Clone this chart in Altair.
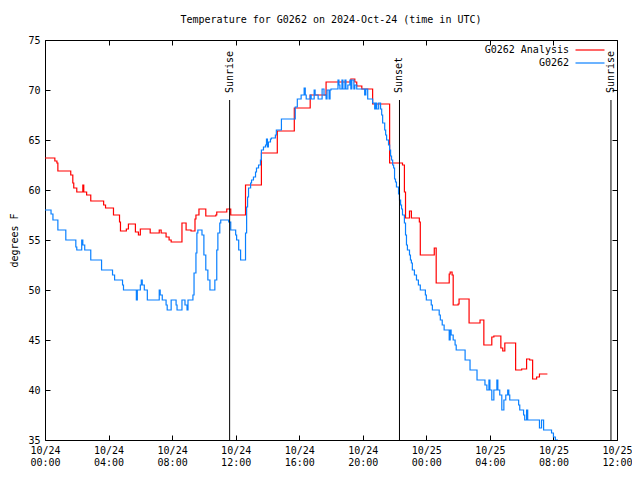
import altair as alt
import pandas as pd

# ---- data ----
series_names = ["G0262 Analysis", "G0262"]
series_colors = ["#ff0000", "#0a80ff"]

analysis_hours = [0.0, 0.62, 0.75, 0.81, 1.62, 1.75, 1.81, 2.0, 2.38, 2.44, 2.62, 2.88,
                  3.69, 3.81, 4.31, 4.69, 4.75, 5.12, 5.25, 5.69, 5.88, 6.0, 6.62, 7.19,
                  7.31, 7.62, 7.81, 7.94, 8.62, 8.88, 9.19, 9.44, 9.5, 9.69, 10.12, 10.75,
                  10.81, 11.44, 11.69, 12.62, 13.62, 14.62, 15.69, 16.69, 17.69, 19.25,
                  19.5, 19.62, 19.94, 20.62, 21.69, 22.5, 22.62, 22.69, 22.94, 23.06,
                  23.56, 23.62, 24.5, 24.62, 25.44, 25.5, 25.62, 25.69, 26.0, 26.06,
                  26.69, 27.38, 27.62, 28.12, 28.25, 28.69, 28.81, 28.94, 29.62, 30.0,
                  30.31, 30.5, 30.69, 30.94, 31.12, 31.62]
analysis_temps = [63.2, 62.9, 62.7, 61.9, 61.5, 60.7, 60.2, 59.8, 60.5, 59.8, 59.5, 58.9,
                  58.5, 58.2, 57.5, 56.8, 55.9, 56.1, 56.6, 55.8, 55.5, 56.1, 55.7, 56.0,
                  55.7, 55.3, 55.0, 54.8, 56.7, 56.0, 55.9, 57.1, 57.5, 58.1, 57.4, 57.5,
                  57.8, 58.1, 57.5, 60.5, 63.7, 65.9, 68.2, 69.5, 70.8, 71.1,
                  70.8, 70.4, 70.1, 68.6, 62.7, 62.5, 59.8, 57.2, 57.9, 57.2,
                  56.8, 53.5, 54.2, 50.7, 51.6, 51.8, 51.5, 48.5, 48.6, 49.1,
                  46.7, 47.0, 44.5, 45.3, 45.4, 44.2, 43.9, 44.7, 42.0, 42.1,
                  43.1, 43.0, 41.1, 41.3, 41.6, 41.6]

obs_hours = [0.0, 0.38, 0.5, 0.81, 1.31, 1.94, 2.0, 2.31, 2.38, 2.5, 2.88, 3.56, 4.25,
             4.38, 4.88, 4.94, 5.75, 5.81, 6.0, 6.06, 6.12, 6.25, 6.44, 7.19, 7.25, 7.38,
             7.62, 7.69, 7.94, 8.25, 8.31, 8.62, 8.81, 8.94, 9.0, 9.31, 9.38, 9.5, 9.56,
             9.62, 9.88, 10.0, 10.12, 10.25, 10.38, 10.69, 10.81, 10.88, 11.0, 11.06,
             11.56, 11.69, 12.0, 12.06, 12.19, 12.31, 12.62, 12.69, 12.75, 12.81, 12.94,
             13.0, 13.12, 13.25, 13.31, 13.44, 13.56, 13.62, 13.75, 13.88, 13.94, 14.0,
             14.06, 14.19, 14.25, 14.5, 14.56, 14.88, 15.75, 15.88, 16.12, 16.31, 16.38,
             16.44, 16.69, 16.75, 16.94, 17.0, 17.19, 17.44, 17.56, 17.69, 17.75, 17.88,
             17.94, 18.0, 18.44, 18.5, 18.56, 18.69, 18.75, 18.88, 18.94, 19.06, 19.19,
             19.25, 19.31, 19.44, 19.5, 19.62, 20.12, 20.19, 20.31, 20.62, 20.75, 20.81,
             20.88, 21.0, 21.12, 21.19, 21.25, 21.38, 21.44, 21.5, 21.62, 21.69, 21.75,
             21.81, 21.88, 21.94, 22.0, 22.06, 22.12, 22.25, 22.31, 22.38, 22.44, 22.5,
             22.62, 22.69, 22.75, 22.81, 22.94, 23.0, 23.06, 23.12, 23.25, 23.38, 23.5,
             23.62, 23.94, 24.0, 24.31, 24.38, 24.81, 24.88, 25.0, 25.12, 25.44, 25.5,
             25.56, 25.69, 25.81, 25.88, 26.44, 26.75, 27.19, 27.69, 27.81, 27.94, 28.0,
             28.12, 28.25, 28.44, 28.5, 28.62, 28.75, 28.88, 29.0, 29.12, 29.19, 29.25,
             29.81, 29.88, 30.12, 30.19, 30.31, 30.38, 31.12, 31.25, 31.38, 31.88, 32.0,
             32.12, 32.25]
obs_temps = [58.0, 57.6, 57.0, 56.0, 55.0, 54.3, 54.0, 55.0, 54.5, 54.0, 53.0, 52.0, 51.5,
             51.0, 50.5, 50.0, 49.0, 50.0, 50.5, 51.0, 50.5, 50.0, 49.0, 50.0, 49.5, 49.0,
             48.5, 48.0, 49.0, 48.5, 48.0, 49.0, 48.5, 48.0, 49.0, 49.5, 51.7, 53.7, 55.7,
             56.0, 55.5, 53.5, 52.0, 51.0, 50.0, 51.0, 54.0, 55.7, 56.7, 57.0,
             56.8, 56.0, 55.5, 55.0, 54.0, 53.0, 55.7, 58.3, 59.3, 60.2, 60.7,
             61.0, 61.3, 61.8, 62.2, 62.5, 63.0, 64.0, 64.3, 64.5, 65.1, 64.3,
             64.8, 65.1, 65.2, 65.5, 66.0, 67.1, 68.3, 69.1, 69.5, 70.2, 69.5,
             69.1, 69.5, 69.1, 70.0, 69.5, 69.1, 70.1, 69.5, 69.1, 70.0, 69.1,
             70.0, 70.1, 71.0, 70.5, 70.1, 71.0, 70.1, 71.0, 70.1, 70.5, 71.0,
             70.1, 71.0, 70.1, 70.5, 70.1, 69.5, 70.1, 69.1, 68.7, 68.1, 68.7,
             68.1, 68.7, 68.1, 67.5, 66.7, 66.0, 65.5, 65.0, 64.5, 64.0, 63.4,
             63.0, 62.5, 62.2, 61.1, 60.8, 60.3, 59.6, 59.0, 58.5, 58.1, 57.5,
             56.7, 55.5, 54.5, 54.0, 53.5, 53.0, 52.7, 52.0, 51.5, 51.0, 50.5,
             50.0, 49.5, 49.0, 48.5, 48.0, 47.5, 47.0, 46.5, 46.0, 45.0, 46.0,
             45.5, 45.0, 44.5, 44.0, 43.0, 42.0, 41.0, 40.5, 40.0, 41.0, 40.0,
             39.0, 40.0, 41.0, 40.0, 39.5, 38.0, 39.0, 39.5, 40.0, 39.5, 39.0,
             38.5, 38.0, 37.5, 37.0, 38.0, 37.0, 36.2, 37.0, 36.0, 35.7, 35.3,
             35.0, 34.5]

event_hours = [11.62, 22.31, 35.62]
event_labels = ["Sunrise", "Sunset", "Sunrise"]

y_ticks = [35, 40, 45, 50, 55, 60, 65, 70, 75]
x_ticks = list(range(0, 37))

# ---- tables ----
df = pd.concat([
    pd.DataFrame({"hour": analysis_hours, "temp": analysis_temps, "series": series_names[0]}),
    pd.DataFrame({"hour": obs_hours, "temp": obs_temps, "series": series_names[1]}),
], ignore_index=True)
ev = pd.DataFrame({"hour": event_hours, "label": event_labels})

FONT = "DejaVu Sans Mono"
W, H = 572, 400

x_label_expr = ("datum.value % 4 == 0 ? ['10/' + (24 + floor(datum.value / 24)), "
                "(datum.value % 24 < 10 ? '0' : '') + (datum.value % 24) + ':00'] : ''")

x_enc = alt.X(
    "hour:Q",
    scale=alt.Scale(domain=[0, 36], nice=False, zero=False),
    axis=alt.Axis(
        values=x_ticks, labelExpr=x_label_expr, title=None,
        ticks=False, domain=False, grid=True, gridColor="black", gridWidth=1,
        gridDash={"condition": {"test": "datum.value % 4 == 0", "value": [5, H - 10, 5, 100]},
                  "value": [2.5, H - 5, 2.5, 100]},
        labelOverlap=False, labelFlush=False, labelPadding=5, labelLineHeight=12,
        labelFont=FONT, labelFontSize=10, labelColor="black",
    ),
)
y_enc = alt.Y(
    "temp:Q",
    scale=alt.Scale(domain=[35, 75], nice=False, zero=False),
    axis=alt.Axis(
        values=y_ticks, title="degrees F", ticks=False, domain=False,
        grid=True, gridColor="black", gridWidth=1, gridDash=[5, W - 10, 5, 100],
        labelPadding=5, labelFont=FONT, labelFontSize=10, labelColor="black",
        titleFont=FONT, titleFontSize=10, titleFontWeight="normal", titleColor="black",
        titlePadding=8,
    ),
)

lines = alt.Chart(df).mark_line(interpolate="step-after", strokeWidth=1.2, clip=True).encode(
    x=x_enc,
    y=y_enc,
    color=alt.Color(
        "series:N",
        scale=alt.Scale(domain=series_names, range=series_colors),
        legend=alt.Legend(
            title=None, orient="none", legendX=539, legendY=4,
            symbolType="M-2.9,0H2.9", symbolSize=100, symbolStrokeWidth=1.2,
            symbolFillColor="transparent",
            labelAlign="right", labelOffset={"expr": "-27"},
            labelFont=FONT, labelFontSize=10, labelColor="black",
            padding=0, rowPadding=2,
        ),
    ),
    detail="series:N",
)

rules = alt.Chart(ev).mark_rule(color="black", strokeWidth=1).encode(
    x="hour:Q", y=alt.value(60), y2=alt.value(H)
)
labels = alt.Chart(ev).mark_text(
    angle=270, align="left", baseline="middle", font=FONT, fontSize=10, color="black"
).encode(x="hour:Q", y=alt.value(53), text="label:N")

chart = alt.layer(lines, rules, labels).properties(
    width=W, height=H,
    title=alt.TitleParams(
        "Temperature for G0262 on 2024-Oct-24 (time in UTC)",
        font=FONT, fontSize=10, fontWeight="normal", color="black",
        anchor="middle", offset=10,
    ),
    autosize=alt.AutoSizeParams(type="none"),
    padding={"left": 37, "top": 32, "right": 15, "bottom": 30},
).configure_view(stroke="black", strokeWidth=1)

chart.save("out.html", embed_options={"renderer": "svg", "actions": False})
